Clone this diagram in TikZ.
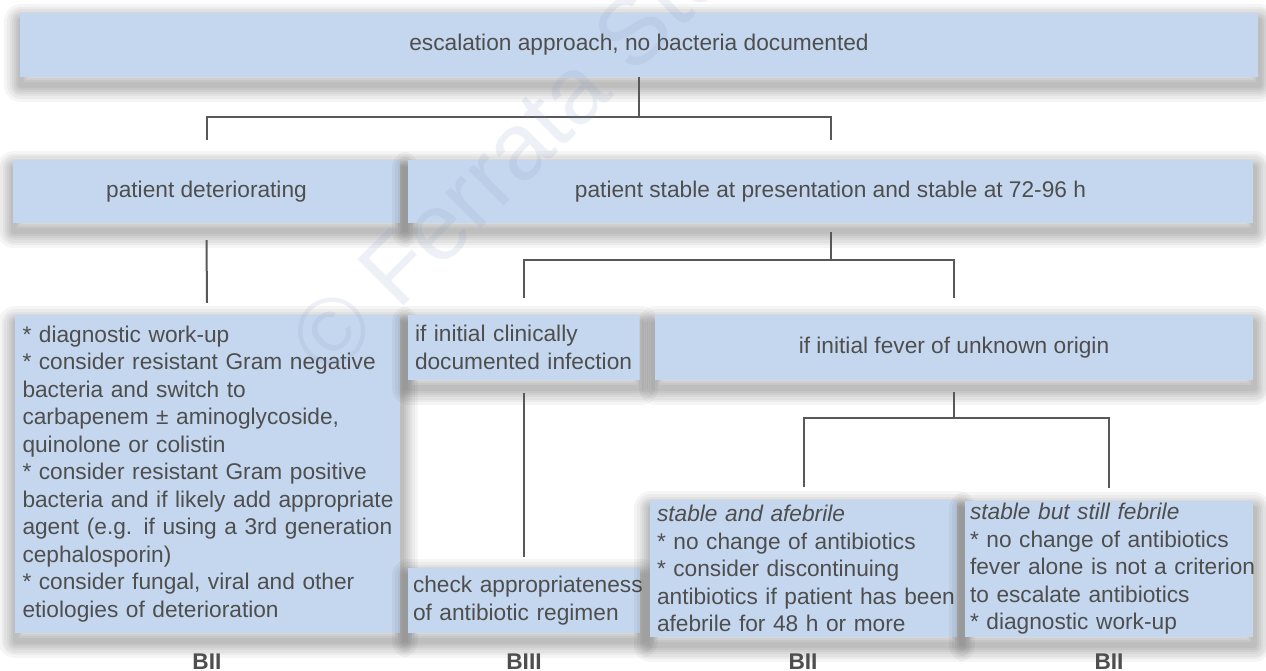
\documentclass[tikz,border=0pt]{standalone}
\usepackage{fontspec}
\setmainfont{Liberation Sans}
\usetikzlibrary{calc}
\definecolor{boxblue}{RGB}{197,215,238}
\definecolor{txtgray}{RGB}{78,78,78}
\definecolor{linegray}{RGB}{88,88,88}
\definecolor{wmark}{RGB}{120,145,190}
\newcommand\Ln[1]{\mbox{#1}}
\begin{document}
\begin{tikzpicture}[x=1pt,y=1pt,
  shadowlayer/.style={preaction={draw=black, line width=#1, line join=round,
    draw opacity=0.04, transform canvas={shift={(1pt,-8pt)}}}},
  softshadow/.style={shadowlayer=34pt, shadowlayer=28pt, shadowlayer=23pt,
    shadowlayer=18pt, shadowlayer=14pt, shadowlayer=10pt, shadowlayer=6pt},
  box/.style={fill=boxblue, draw=none, inner sep=0pt, text=txtgray,
    font=\fontsize{22.7}{27.5}\selectfont, softshadow},
  lbox/.style={box, align=left, inner xsep=7pt},
  conn/.style={draw=linegray, line width=2pt},
  grade/.style={text=txtgray, font=\fontsize{22.7}{27}\selectfont\bfseries, anchor=base, inner sep=0pt}]
\useasboundingbox[fill=white] (0,0) rectangle (1266,-671);

% boxes
\node[box, minimum width=1238pt, minimum height=64pt] (top) at (639,-45)
  {escalation approach, no bacteria documented};
\node[box, minimum width=387pt, minimum height=63pt] (det) at (206.5,-191.5)
  {patient deteriorating};
\node[box, minimum width=845pt, minimum height=63pt] (stable) at (830.5,-191.5)
  {patient stable at presentation and stable at 72-96 h};
\node[lbox, text width=369pt, minimum height=318pt, inner xsep=8pt] (big) at (207,-474)
  {\Ln{* diagnostic work-up}\\
   \Ln{* consider resistant Gram negative}\\
   \Ln{bacteria and switch to}\\
   \Ln{carbapenem ± aminoglycoside,}\\
   \Ln{quinolone or colistin}\\
   \Ln{* consider resistant Gram positive}\\
   \Ln{bacteria and if likely add appropriate}\\
   \Ln{agent (e.g. if using a 3rd generation}\\
   \Ln{cephalosporin)}\\
   \Ln{* consider fungal, viral and other}\\
   \Ln{etiologies of deterioration}};
\node[lbox, text width=218pt, minimum height=65pt] (clin) at (524,-347.5)
  {\Ln{if initial clinically}\\ \Ln{documented infection}};
\node[lbox, text width=222pt, minimum height=65pt, inner xsep=5pt] (check) at (524,-600.5)
  {\Ln{check appropriateness}\\ \Ln{of antibiotic regimen}};
\node[box, minimum width=598pt, minimum height=65pt] (fever) at (954,-347.5)
  {if initial fever of unknown origin};
\node[lbox, text width=293pt, minimum height=137pt] (afeb) at (803.5,-568.5)
  {\Ln{\itshape stable and afebrile}\\
   \Ln{* no change of antibiotics}\\
   \Ln{* consider discontinuing}\\
   \Ln{antibiotics if patient has been}\\
   \Ln{afebrile for 48 h or more}};
\node[lbox, text width=278pt, minimum height=136pt, inner xsep=5pt] (feb) at (1109,-569)
  {\Ln{\itshape stable but still febrile}\\
   \Ln{* no change of antibiotics}\\
   \Ln{fever alone is not a criterion}\\
   \Ln{to escalate antibiotics}\\
   \Ln{* diagnostic work-up}};

% connectors
\coordinate (b1) at (639,-117);
\coordinate (b2) at (830.5,-260);
\coordinate (b3) at (954,-418);
\draw[conn] (top.south) -- (b1);
\draw[conn] ($(det.north)+(0,20)$) |- (b1) -| ($(stable.north)+(0,20)$);
\draw[conn] ($(det.south)+(0,-17)$) -- ($(big.north)+(0,12)$);
\draw[conn] ($(stable.south)+(0,-9)$) -- (b2);
\draw[conn] ($(clin.north)+(0,17)$) |- (b2) -| ($(fever.north)+(0,17)$);
\draw[conn] ($(clin.south)+(0,-13)$) -- ($(check.north)+(0,11)$);
\draw[conn] ($(fever.south)+(0,-12)$) -- (b3);
\draw[conn] ($(afeb.north)+(0,13)$) |- (b3) -| ($(feb.north)+(0,13)$);

% grades
\node[grade] (g1) at (207,-669) {BII};
\node[grade] (g2) at (524,-669) {BIII};
\node[grade] (g3) at (803,-669) {BII};
\node[grade] (g4) at (1109,-669) {BII};

% watermark
\begin{scope}
\clip (0,0) rectangle (1266,-671);
\node[rotate=45, anchor=base west, text=wmark, opacity=0.13, inner sep=0pt,
  font=\fontsize{95}{100}\selectfont] (wm) at (330,-380) {© Ferrata Storti};
\end{scope}
\end{tikzpicture}
\end{document}
